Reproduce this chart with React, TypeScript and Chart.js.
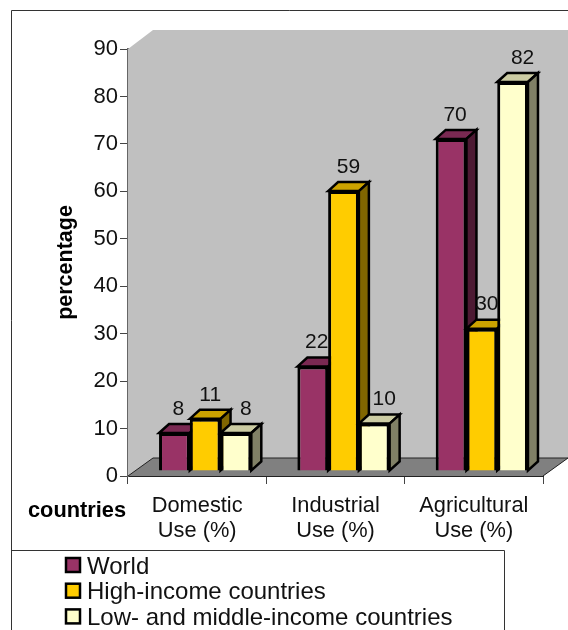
import React, { useEffect, useRef } from "react";
import { Chart, registerables } from "chart.js";

Chart.register(...registerables);

// Withdrawal shares by use
const categories = [["Domestic", "Use (%)"], ["Industrial", "Use (%)"], ["Agricultural", "Use (%)"]];
const world = [8, 22, 70];
const highIncome = [11, 59, 30];
const lowMiddleIncome = [8, 10, 82];
const seriesNames = ["World", "High-income countries", "Low- and middle-income countries"];
const yTicks = [0, 10, 20, 30, 40, 50, 60, 70, 80, 90];

const FONT = "'Liberation Sans', Arial, sans-serif";

// Front, top and side face colours per series
const faces = [
  { front: "#993366", top: "#7A2952", side: "#4D1A33" },
  { front: "#FFCC00", top: "#CCA300", side: "#806600" },
  { front: "#FFFFCC", top: "#CCCCA3", side: "#808066" },
];

// Box depth of the plot and of each bar, and where bars stand on the floor
const WALL_DX = 25;
const WALL_DY = 18;
const BAR_DX = 10;
const BAR_DY = 9;
const BAR_SHIFT_X = 8;
const BAR_SHIFT_Y = -5;
const LABEL_DX = [4, 5, 10];
const LABEL_DY = -24;

const poly = (ctx: CanvasRenderingContext2D, pts: number[][], fill: string, stroke?: string, lw = 1) => {
  ctx.beginPath();
  pts.forEach(([x, y], i) => (i ? ctx.lineTo(x, y) : ctx.moveTo(x, y)));
  ctx.closePath();
  ctx.fillStyle = fill;
  ctx.fill();
  if (stroke) {
    ctx.strokeStyle = stroke;
    ctx.lineWidth = lw;
    ctx.lineJoin = "miter";
    ctx.stroke();
  }
};

// Walls and floor behind the bars
const roomPlugin = {
  id: "room",
  beforeDatasetsDraw(chart: any) {
    const { ctx, chartArea: a } = chart;
    ctx.save();
    const bx = a.left + WALL_DX;
    const rx = a.right + WALL_DX;
    const tb = a.bottom - WALL_DY;
    const tt = a.top - WALL_DY - 1;
    poly(ctx, [[a.left, a.top], [bx, tt], [rx, tt], [rx, tb], [a.right, a.bottom], [a.left, a.bottom]], "#C0C0C0");
    poly(ctx, [[a.left, a.bottom], [bx, tb], [rx, tb], [a.right, a.bottom]], "#808080");
    ctx.strokeStyle = "#222";
    ctx.lineWidth = 1;
    ctx.beginPath();
    ctx.moveTo(a.left, a.bottom);
    ctx.lineTo(bx, tb);
    ctx.lineTo(rx, tb);
    ctx.lineTo(a.right, a.bottom);
    ctx.stroke();
    ctx.restore();
  },
};

// Paints the series left to right, each bar as top and side faces under its front
// face, so a later series overlaps the depth of the one before it
const barBoxPlugin = {
  id: "barBox",
  beforeDatasetsDraw(chart: any) {
    const { ctx } = chart;
    chart.data.datasets.forEach((_: any, di: number) => {
      const meta = chart.getDatasetMeta(di);
      const c = faces[di];
      ctx.save();
      ctx.translate(BAR_SHIFT_X, BAR_SHIFT_Y);
      meta.data.forEach((el: any) => {
        const { x, y, base, width } = el.getProps(["x", "y", "base", "width"]);
        const l = x - width / 2;
        const r = x + width / 2;
        poly(ctx, [[l, y], [l + BAR_DX, y - BAR_DY], [r + BAR_DX, y - BAR_DY], [r, y]], c.top, "#000", 2.5);
        poly(ctx, [[r, y], [r + BAR_DX, y - BAR_DY], [r + BAR_DX, base - BAR_DY], [r, base]], c.side, "#000", 2.5);
      });
      meta.controller.draw();
      ctx.restore();
    });
    return false;
  },
};

// Value labels, the category axis caption and the boxed legend
const annotationPlugin = {
  id: "annotations",
  afterDraw(chart: any) {
    const { ctx, canvas } = chart;
    ctx.save();
    ctx.fillStyle = "#111";
    ctx.font = `21px ${FONT}`;
    ctx.textAlign = "center";
    ctx.textBaseline = "middle";
    chart.data.datasets.forEach((ds: any, di: number) => {
      chart.getDatasetMeta(di).data.forEach((el: any, i: number) => {
        ctx.fillText(String(ds.data[i]), el.x + BAR_SHIFT_X + LABEL_DX[di], el.y + BAR_SHIFT_Y + LABEL_DY);
      });
    });

    ctx.font = `bold 21.8px ${FONT}`;
    ctx.textAlign = "left";
    ctx.fillStyle = "#000";
    ctx.fillText("countries", 28, 511);

    // Outer frame, open at the canvas edges
    ctx.strokeStyle = "#333";
    ctx.lineWidth = 1;
    ctx.beginPath();
    ctx.moveTo(11.5, canvas.height);
    ctx.lineTo(11.5, 10.5);
    ctx.lineTo(canvas.width, 10.5);
    ctx.stroke();

    // Legend box runs off the bottom edge
    ctx.beginPath();
    ctx.moveTo(11.5, 550.5);
    ctx.lineTo(504.5, 550.5);
    ctx.lineTo(504.5, canvas.height);
    ctx.stroke();

    ctx.font = `24px ${FONT}`;
    chart.data.datasets.forEach((ds: any, di: number) => {
      const top = 558 + di * 25.7;
      ctx.fillStyle = ds.backgroundColor;
      ctx.strokeStyle = "#000";
      ctx.lineWidth = 2.5;
      ctx.fillRect(66, top, 14, 14);
      ctx.strokeRect(66, top, 14, 14);
      ctx.fillStyle = "#111";
      ctx.fillText(ds.label, 87, top + 9);
    });
    ctx.restore();
  },
};

export default function App() {
  const ref = useRef<HTMLCanvasElement>(null);

  useEffect(() => {
    const datasets = [world, highIncome, lowMiddleIncome].map((data, i) => ({
      label: seriesNames[i],
      data,
      backgroundColor: faces[i].front,
      borderColor: "#000",
      borderWidth: 3,
      barPercentage: 1,
      categoryPercentage: 0.667,
    }));

    const chart = new Chart(ref.current!, {
      type: "bar",
      data: { labels: categories as any, datasets },
      plugins: [roomPlugin, barBoxPlugin, annotationPlugin],
      options: {
        responsive: false,
        animation: false,
        layout: { padding: { top: 49, right: 25 } },
        plugins: { legend: { display: false }, tooltip: { enabled: false } },
        scales: {
          x: {
            afterFit: (s: any) => {
              s.height = 154;
            },
            grid: { offset: true, drawOnChartArea: false, color: "#444", tickLength: 8, lineWidth: 1 },
            border: { color: "#222", width: 1 },
            ticks: {
              color: "#111",
              font: { family: FONT, size: 21.8, lineHeight: 1.15 },
              padding: 9,
              maxRotation: 0,
              autoSkip: false,
            },
          },
          y: {
            min: 0,
            max: 90,
            afterFit: (s: any) => {
              s.width = 128;
            },
            afterBuildTicks: (s: any) => {
              s.ticks = yTicks.map((value) => ({ value }));
            },
            grid: { drawOnChartArea: false, color: "#444", tickLength: 8, lineWidth: 1 },
            border: { color: "#666", width: 2 },
            ticks: {
              color: "#111",
              font: { family: FONT, size: 22 },
              padding: 2,
            },
            title: {
              display: true,
              text: "percentage",
              color: "#000",
              font: { family: FONT, size: 21.5, weight: "bold" },
              padding: { top: 53, bottom: 0 },
            },
          },
        },
      },
    });
    return () => chart.destroy();
  }, []);

  return (
    <div style={{ position: "fixed", left: 0, top: 0, width: 568, height: 630, background: "#fff", overflow: "hidden" }}>
      <canvas ref={ref} width={568} height={630} style={{ display: "block" }} />
    </div>
  );
}
